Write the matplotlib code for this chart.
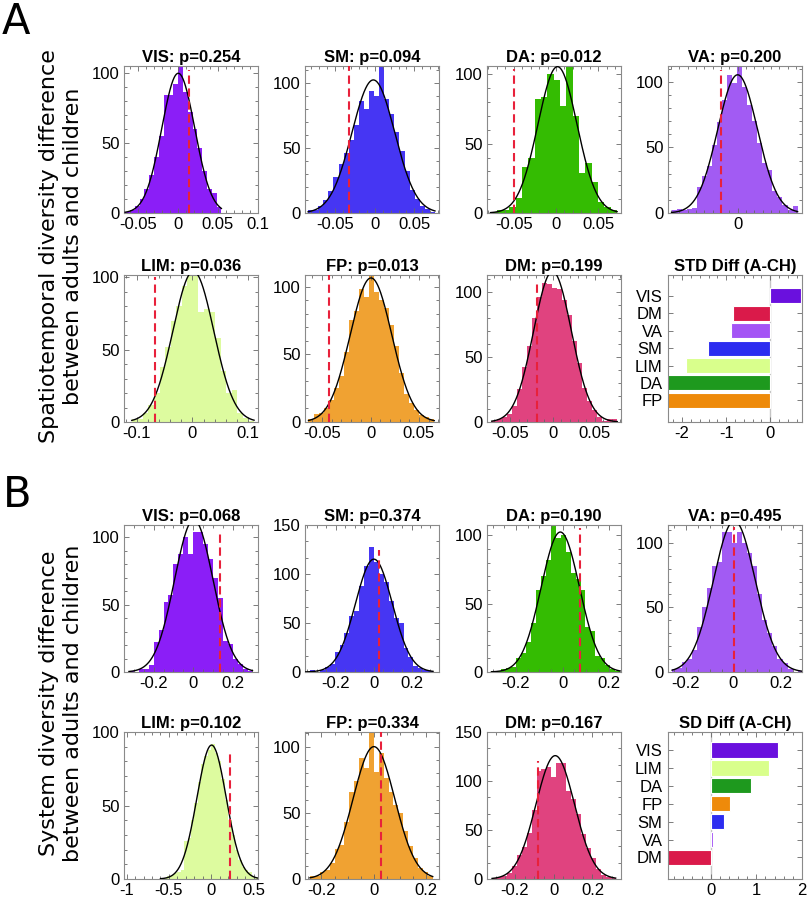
import numpy as np
import matplotlib
matplotlib.use("Agg")
import matplotlib.pyplot as plt
from matplotlib.ticker import AutoMinorLocator, MultipleLocator

plt.rcParams['font.family'] = ['Liberation Sans', 'DejaVu Sans']

# ------------------------------------------------------------------ data
# Panel A : spatiotemporal diversity, permutation null distributions
a_vis_start, a_vis_bw = -0.0656, 0.006
a_vis_counts = [1, 2, 5, 10, 17, 27, 40, 55, 84, 84, 92, 108, 86, 72, 60, 46, 30, 17, 14, 4]
a_vis_obs, a_vis_top = 0.0143, 101.6

a_sm_start, a_sm_bw = -0.0841, 0.0064
a_sm_counts = [2, 2, 5, 10, 17, 28, 38, 46, 56, 68, 86, 80, 94, 90, 112, 88, 76, 62, 48, 32, 18, 11, 5, 3, 1]
a_sm_obs, a_sm_top = -0.033, 113

a_da_start, a_da_bw = -0.0776, 0.0075
a_da_counts = [1, 2, 2, 4, 11, 33, 40, 82, 84, 100, 96, 77, 112, 70, 29, 36, 22, 8, 4, 2]
a_da_obs, a_da_top = -0.050, 104

a_va_start, a_va_bw = -0.0873, 0.00666
a_va_counts = [2, 3, 2, 3, 4, 20, 28, 36, 52, 69, 86, 105, 99, 115, 96, 82, 70, 53, 38, 33, 17, 12, 6, 2, 5]
a_va_obs, a_va_top = -0.0221, 109

a_lim_start, a_lim_bw = -0.1091, 0.01
a_lim_counts = [2, 2, 6, 12, 20, 38, 52, 70, 80, 94, 103, 103, 76, 78, 76, 58, 35, 20, 22, 6, 3, 1]
a_lim_obs, a_lim_top = -0.0667, 100

a_fp_start, a_fp_bw = -0.0641, 0.0052
a_fp_counts = [2, 6, 7, 10, 16, 25, 34, 52, 75, 82, 98, 92, 112, 96, 90, 84, 72, 56, 36, 21, 14, 9, 5, 4, 2]
a_fp_obs, a_fp_top = -0.0434, 116

a_dm_start, a_dm_bw = -0.0722, 0.00595
a_dm_counts = [1, 2, 4, 6, 12, 25, 42, 58, 80, 96, 107, 106, 103, 102, 94, 82, 62, 45, 26, 16, 9, 4, 1, 2, 2]
a_dm_obs, a_dm_top = -0.0183, 109

a_p = ['0.254', '0.094', '0.012', '0.200', '0.036', '0.013', '0.199']

a_bar_labels = ['VIS', 'DM', 'VA', 'SM', 'LIM', 'DA', 'FP']
a_bar_values = [0.70, -0.85, -0.88, -1.42, -1.91, -2.35, -2.45]

# Panel B : system diversity, permutation null distributions
b_vis_start, b_vis_bw = -0.325, 0.025
b_vis_counts = [1, 0, 2, 2, 5, 22, 31, 52, 57, 80, 88, 100, 88, 104, 104, 95, 84, 70, 55, 23, 21, 10, 6, 2, 1]
b_vis_obs, b_vis_top = 0.1367, 103.5

b_sm_start, b_sm_bw = -0.3624, 0.026
b_sm_counts = [0, 2, 0, 2, 5, 8, 20, 28, 40, 57, 62, 88, 108, 128, 112, 100, 92, 72, 55, 50, 25, 15, 6, 4, 2, 1]
b_sm_obs, b_sm_top = 0.0276, 125

b_da_start, b_da_bw = -0.305, 0.0212
b_da_counts = [1, 1, 2, 3, 4, 10, 14, 22, 36, 60, 70, 82, 108, 98, 100, 88, 72, 68, 60, 33, 30, 12, 10, 5, 2, 1]
b_da_obs, b_da_top = 0.0735, 105

b_va_start, b_va_bw = -0.2587, 0.0212
b_va_counts = [2, 3, 8, 10, 17, 35, 50, 65, 82, 85, 108, 108, 100, 108, 100, 92, 82, 60, 40, 30, 20, 10, 7, 2, 0, 1]
b_va_obs, b_va_top = 0.002, 112.5

b_lim_start, b_lim_bw = -0.60, 0.04
b_lim_counts = [1, 1, 2, 3, 4, 5, 6, 26, 28, 40, 52, 66, 78, 84, 88, 92, 86, 80, 68, 54, 40, 30, 20, 13, 8, 6, 5, 2, 1, 0]
b_lim_obs, b_lim_top = 0.219, 87

b_fp_start, b_fp_bw = -0.244, 0.0188
b_fp_counts = [2, 2, 5, 7, 12, 23, 26, 43, 66, 74, 91, 84, 112, 81, 95, 76, 66, 56, 50, 36, 25, 16, 8, 5, 2]
b_fp_obs, b_fp_top = 0.029, 111

b_dm_start, b_dm_bw = -0.318, 0.0255
b_dm_counts = [1, 2, 3, 6, 13, 24, 33, 47, 70, 110, 112, 114, 104, 118, 118, 90, 82, 66, 46, 32, 21, 10, 4, 2, 1]
b_dm_obs, b_dm_top = -0.0834, 120

b_p = ['0.068', '0.374', '0.190', '0.495', '0.102', '0.334', '0.167']

b_bar_labels = ['VIS', 'LIM', 'DA', 'FP', 'SM', 'VA', 'DM']
b_bar_values = [1.47, 1.28, 0.89, 0.42, 0.29, 0.04, -1.05]

networks = ['VIS', 'SM', 'DA', 'VA', 'LIM', 'FP', 'DM']

# ------------------------------------------------------------------ style
hist_colors = {'VIS': '#8B1EF7', 'SM': '#4636F3', 'DA': '#34BC02', 'VA': '#A25BF3',
               'LIM': '#DDFB9F', 'FP': '#F0A232', 'DM': '#E0437F'}
bar_colors = {'VIS': '#6A10DE', 'SM': '#2C2CF0', 'DA': '#1E991E', 'VA': '#A454F5',
              'LIM': '#D9FF8C', 'FP': '#EE8A0A', 'DM': '#DA1A4A'}
SPINE = '#8a8a8a'
TICKC = '#666666'
RED = '#E8213B'

W, H = 810, 902
fig = plt.figure(figsize=(W / 100, H / 100), dpi=100)


def rect(left, top, w, h):
    return [left / W, 1 - (top + h) / H, w / W, h / H]


def fmt(v):
    s = '%g' % v
    return '0' if s in ('-0', '0') else s


def style(ax, xticks, yticks, xminor, yminor):
    for s in ax.spines.values():
        s.set_color(SPINE)
        s.set_linewidth(0.8)
    ax.set_xticks(xticks, labels=[fmt(t) for t in xticks])
    ax.set_yticks(yticks, labels=[fmt(t) for t in yticks])
    ax.xaxis.set_minor_locator(AutoMinorLocator(xminor))
    ax.yaxis.set_minor_locator(AutoMinorLocator(yminor))
    ax.tick_params(which='both', direction='in', top=True, right=True,
                   color=TICKC, width=0.6, labelsize=12, pad=3)
    ax.tick_params(which='major', length=3.5)
    ax.tick_params(which='minor', length=2)


def hist_panel(ax, start, bw, counts, obs, top, color, title, xlim, ylim, xticks, yticks,
               xminor=5, yminor=5):
    counts = np.asarray(counts, float)
    edges = start + bw * np.arange(len(counts) + 1)
    centers = 0.5 * (edges[:-1] + edges[1:])
    ax.bar(centers, counts, width=bw, color=color, edgecolor='none', zorder=1)
    n = counts.sum()
    mu = (counts * centers).sum() / n
    sd = np.sqrt((counts * (centers - mu) ** 2).sum() / n)
    xs = np.linspace(edges[0], edges[-1], 400)
    ys = n * bw / (sd * np.sqrt(2 * np.pi)) * np.exp(-0.5 * ((xs - mu) / sd) ** 2)
    ax.plot(xs, ys, color='black', lw=1.0, zorder=3)
    ax.vlines(obs, 0, top, colors=RED, linestyles=(0, (4, 2.2)), lw=1.5, zorder=4)
    ax.set_xlim(*xlim)
    ax.set_ylim(*ylim)
    style(ax, xticks, yticks, xminor, yminor)
    ax.set_title(title, fontsize=12, fontweight='bold', pad=3)


def bar_panel(ax, labels, values, title, xlim, ylim, xticks):
    pos = np.arange(len(labels))[::-1] + 1
    ax.axvline(0, color='#c4c4c4', lw=1.0, zorder=0)
    ax.barh(pos, values, height=0.86, color=[bar_colors[l] for l in labels],
            edgecolor='white', linewidth=0.8, zorder=2)
    ax.set_xlim(*xlim)
    ax.set_ylim(*ylim)
    style(ax, xticks, [], 5, 1)
    ax.set_yticks(pos, labels=labels)
    ax.tick_params(axis='y', which='minor', left=False, right=False)
    ax.tick_params(axis='y', labelsize=12, pad=4)
    ax.set_title(title, fontsize=12, fontweight='bold', pad=3)


cols = [124, 305, 487, 668]
rows = [66, 275, 525, 732]
AW, AH = 134, 147

# ---- Panel A
a_specs = [
    (a_vis_start, a_vis_bw, a_vis_counts, a_vis_obs, a_vis_top, (-0.067, 0.1), (0, 104.7), [-0.05, 0, 0.05, 0.1]),
    (a_sm_start, a_sm_bw, a_sm_counts, a_sm_obs, a_sm_top, (-0.088, 0.081), (0, 113), [-0.05, 0, 0.05]),
    (a_da_start, a_da_bw, a_da_counts, a_da_obs, a_da_top, (-0.0817, 0.077), (0, 106), [-0.05, 0, 0.05]),
    (a_va_start, a_va_bw, a_va_counts, a_va_obs, a_va_top, (-0.092, 0.085), (0, 112), [0]),
    (a_lim_start, a_lim_bw, a_lim_counts, a_lim_obs, a_lim_top, (-0.123, 0.118), (0, 101.5), [-0.1, 0, 0.1]),
    (a_fp_start, a_fp_bw, a_fp_counts, a_fp_obs, a_fp_top, (-0.0677, 0.0708), (0, 108.6), [-0.05, 0, 0.05]),
    (a_dm_start, a_dm_bw, a_dm_counts, a_dm_obs, a_dm_top, (-0.0778, 0.081), (0, 112.8), [-0.05, 0, 0.05]),
]
for i, (net, p, spec) in enumerate(zip(networks, a_p, a_specs)):
    r, c = divmod(i, 4)
    ax = fig.add_axes(rect(cols[c], rows[r], AW, AH))
    st, bw, cnt, obs, top, xl, yl, xt = spec
    hist_panel(ax, st, bw, cnt, obs, top, hist_colors[net], f'{net}: p={p}', xl, yl, xt, [0, 50, 100])
    if net == 'VA':
        ax.xaxis.set_minor_locator(MultipleLocator(0.011))

ax = fig.add_axes(rect(cols[3], rows[1], AW, AH))
bar_panel(ax, a_bar_labels, a_bar_values, 'STD Diff (A-CH)', (-2.317, 0.717), (-0.24, 8.2), [-2, -1, 0])

# ---- Panel B
b_specs = [
    (b_vis_start, b_vis_bw, b_vis_counts, b_vis_obs, b_vis_top, (-0.35, 0.328), (0, 109.2), [-0.2, 0, 0.2], [0, 50, 100], 5),
    (b_sm_start, b_sm_bw, b_sm_counts, b_sm_obs, b_sm_top, (-0.363, 0.345), (0, 150), [-0.2, 0, 0.2], [0, 50, 100, 150], 3),
    (b_da_start, b_da_bw, b_da_counts, b_da_obs, b_da_top, (-0.324, 0.25), (0, 107.4), [-0.2, 0, 0.2], [0, 50, 100], 5),
    (b_va_start, b_va_bw, b_va_counts, b_va_obs, b_va_top, (-0.276, 0.29), (0, 113.8), [-0.2, 0, 0.2], [0, 50, 100], 5),
    (b_lim_start, b_lim_bw, b_lim_counts, b_lim_obs, b_lim_top, (-1.031, 0.553), (0, 100), [-1, -0.5, 0, 0.5], [0, 50, 100], 5),
    (b_fp_start, b_fp_bw, b_fp_counts, b_fp_obs, b_fp_top, (-0.263, 0.25), (0, 111), [-0.2, 0, 0.2], [0, 50, 100], 5),
    (b_dm_start, b_dm_bw, b_dm_counts, b_dm_obs, b_dm_top, (-0.344, 0.347), (0, 150), [-0.2, 0, 0.2], [0, 50, 100, 150], 3),
]
for i, (net, p, spec) in enumerate(zip(networks, b_p, b_specs)):
    r, c = divmod(i, 4)
    ax = fig.add_axes(rect(cols[c], rows[2 + r], AW, AH))
    st, bw, cnt, obs, top, xl, yl, xt, yt, ym = spec
    hist_panel(ax, st, bw, cnt, obs, top, hist_colors[net], f'{net}: p={p}', xl, yl, xt, yt,
               xminor=5 if net == 'LIM' else 4, yminor=ym)

ax = fig.add_axes(rect(cols[3], rows[3], AW, AH))
bar_panel(ax, b_bar_labels, b_bar_values, 'SD Diff (A-CH)', (-0.935, 2.0), (-0.2, 8.0), [0, 1, 2])

# ---- panel letters and shared y labels
fig.text(0.002, 0.999, 'A', fontsize=30, family='DejaVu Sans', va='top', ha='left')
fig.text(0.004, 0.474, 'B', fontsize=30, family='DejaVu Sans', va='top', ha='left')
fig.text(61 / W, 1 - 246 / H, 'Spatiotemporal diversity difference\nbetween adults and children',
         rotation=90, fontsize=16, family='DejaVu Sans', ha='center', va='center',
         multialignment='center', linespacing=1.25)
fig.text(61 / W, 1 - 703 / H, 'System diversity difference\nbetween adults and children',
         rotation=90, fontsize=16, family='DejaVu Sans', ha='center', va='center',
         multialignment='center', linespacing=1.25)

fig.savefig('out.png', dpi=100)
